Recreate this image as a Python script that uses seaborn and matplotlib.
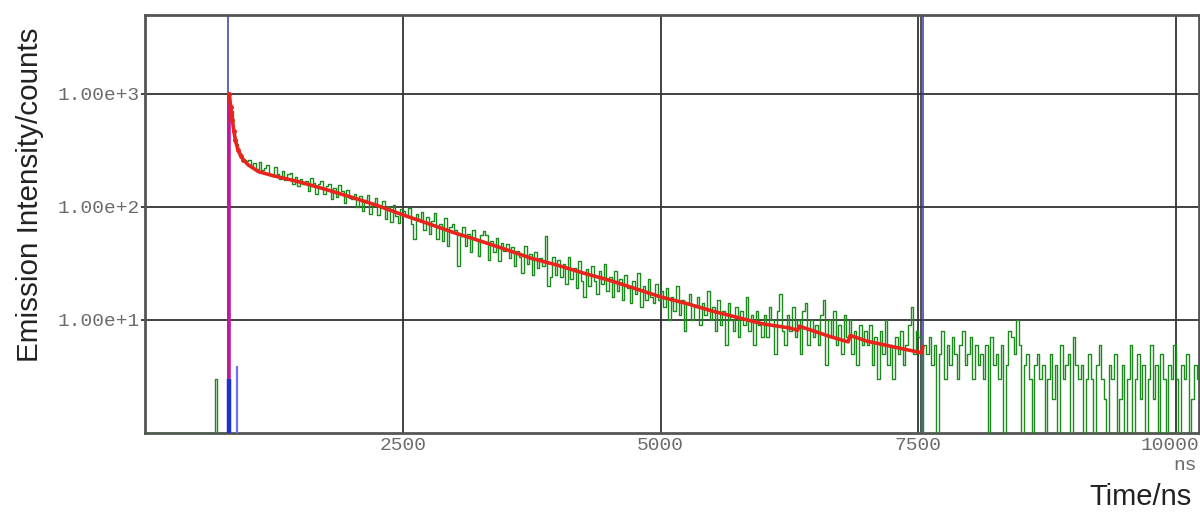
import numpy as np
import pandas as pd
import matplotlib
matplotlib.use("Agg")
import matplotlib.pyplot as plt
import matplotlib.transforms as mtransforms
import seaborn as sns

# Decay histogram: counts per 25 ns channel, channel start times in ns
bin_width = 25
decay_counts = [
    # 0 - 775 ns: background before the excitation pulse
    1, 1, 1, 1, 1, 1, 1, 1, 1, 1, 1, 1, 1, 1, 1, 1,
    1, 1, 1, 1, 1, 1, 1, 1, 1, 1, 1, 3, 1, 1, 1, 1,
    # 800 - 975 ns: rise and fast component
    1000, 700, 470, 360, 300, 275, 262, 255,
    # 1000 - 1475 ns
    262, 231, 244, 216, 248, 210, 219, 236, 192, 189,
    224, 196, 178, 209, 172, 194, 201, 161, 183, 152,
    # 1500 - 1975 ns
    178, 158, 171, 139, 182, 163, 131, 158, 170, 129,
    152, 161, 118, 146, 122, 155, 137, 109, 142, 121,
    # 2000 - 2475 ns
    118, 131, 99, 124, 92, 116, 127, 87, 108, 119,
    84, 102, 113, 78, 99, 74, 105, 83, 72, 96,
    # 2500 - 2975 ns
    92, 84, 98, 70, 52, 86, 78, 91, 62, 82,
    58, 75, 88, 52, 71, 50, 79, 45, 66, 70,
    # 3000 - 3475 ns
    62, 30, 55, 67, 45, 58, 40, 63, 51, 37,
    57, 61, 56, 34, 50, 40, 53, 33, 48, 41,
    # 3500 - 3975 ns
    47, 35, 44, 30, 41, 36, 26, 45, 31, 38,
    25, 40, 29, 35, 30, 55, 20, 24, 36, 25,
    # 4000 - 4475 ns
    34, 24, 31, 21, 36, 23, 29, 19, 33, 22,
    16, 28, 20, 30, 22, 17, 27, 21, 31, 18,
    # 4500 - 4975 ns
    24, 16, 27, 18, 23, 15, 25, 19, 14, 22,
    17, 26, 13, 20, 15, 23, 16, 14, 21, 15,
    # 5000 - 5475 ns
    18, 13, 19, 10, 16, 12, 20, 11, 15, 8,
    14, 17, 10, 13, 16, 9, 14, 11, 18, 10,
    # 5500 - 5975 ns
    13, 8, 15, 9, 12, 6, 14, 10, 8, 13,
    7, 12, 9, 16, 8, 11, 6, 12, 9, 7,
    # 6000 - 6475 ns
    11, 7, 13, 10, 5, 12, 17, 8, 6, 11,
    8, 13, 7, 10, 5, 12, 14, 6, 10, 7,
    # 6500 - 6975 ns
    9, 6, 11, 15, 4, 10, 7, 12, 6, 9,
    5, 11, 7, 10, 5, 8, 4, 9, 6, 8,
    # 7000 - 7475 ns
    6, 9, 4, 7, 3, 8, 5, 10, 4, 6,
    3, 7, 5, 8, 4, 6, 9, 13, 5, 8,
    # 7500 - 7550 ns
    7, 0, 6,
    # 7575 - 8050 ns
    5, 7, 4, 6, 0, 5, 8, 3, 6, 4,
    7, 5, 3, 6, 8, 4, 5, 7, 3, 6,
    # 8075 - 8550 ns
    4, 5, 3, 6, 0, 7, 4, 5, 3, 6,
    0, 4, 8, 7, 5, 10, 6, 0, 4, 5,
    # 8575 - 9050 ns
    3, 0, 4, 5, 3, 4, 0, 3, 5, 2,
    4, 0, 6, 3, 4, 5, 0, 7, 4, 3,
    # 9075 - 9550 ns
    4, 0, 3, 5, 3, 0, 4, 6, 3, 2,
    0, 4, 3, 5, 0, 2, 4, 0, 3, 6,
    # 9575 - 10050 ns
    0, 3, 5, 2, 4, 0, 3, 6, 2, 4,
    0, 5, 3, 0, 4, 3, 6, 3, 0, 4,
    # 10075 - 10225 ns
    3, 5, 0, 2, 4, 3, 4,
]
decay_time = [i * bin_width for i in range(len(decay_counts))]

# Fitted decay curve over the fit window
fit_time = [815, 830, 845, 860, 875, 900, 925, 950, 1000, 1100, 1250, 1500,
            1750, 2000, 2250, 2500, 2750, 3000, 3250, 3500, 3750, 4000, 4250,
            4500, 4750, 5000, 5250, 5500, 5750, 6000, 6250, 6330, 6345, 6500,
            6650, 6820, 6840, 7000, 7250, 7500, 7530, 7545]
fit_counts = [1000, 760, 590, 470, 390, 320, 285, 262, 235, 205, 188, 166,
              143, 122, 103, 85, 71, 59, 50, 42, 35, 30.5, 26,
              22.5, 19, 16, 14, 12, 10.5, 9.2, 8.5, 8.1, 8.8, 7.9,
              7.1, 6.4, 7.3, 6.5, 5.8, 5.2, 5.1, 5.8]

# Instrument response (prompt) channels
irf_time = [812, 890]
irf_counts = [3.0, 3.9]
irf_peak_time = 812
irf_peak_counts = 1000

# Cursor positions (ns)
cursor_blue = [802, 7550]
cursor_black = [7530]

x_ticks = [2500, 5000, 7500, 10000]
x_tick_labels = ["2500", "5000", "7500", "10000"]
y_ticks = [10, 100, 1000]
y_tick_labels = ["1.00e+1", "1.00e+2", "1.00e+3"]

sns.set_theme(style="white")
plt.rcParams["font.family"] = ["Liberation Sans", "DejaVu Sans"]

fig = plt.figure(figsize=(12, 5.13), dpi=100)
ax = fig.add_axes([0.121, 0.156, 0.878, 0.815])

decay_df = pd.DataFrame({"t": decay_time, "counts": decay_counts})
fit_df = pd.DataFrame({"t": fit_time, "counts": fit_counts})

# grid and cursors
for xv in x_ticks:
    ax.axvline(xv, color="#333333", lw=1.3, zorder=1)
for yv in y_ticks:
    ax.axhline(yv, color="#333333", lw=1.3, zorder=1)
for xv in cursor_black:
    ax.axvline(xv, color="#333333", lw=1.2, zorder=1)
for xv in cursor_blue:
    ax.axvline(xv, color="#3a3aa8", lw=1.1, zorder=2)

sns.lineplot(data=decay_df, x="t", y="counts", ax=ax, drawstyle="steps-post",
             estimator=None, sort=False, color="#1d8a1d", lw=1.0, zorder=3)

# prompt signal
ax.vlines([irf_peak_time], 1, [irf_peak_counts], color="#c2189c", lw=2.6, zorder=4)
ax.vlines(irf_time[:1], 1, irf_counts[:1], color="#1e2fd6", lw=3.2, zorder=5)
ax.vlines(irf_time[1:], 1, irf_counts[1:], color="#6f6fff", lw=1.6, zorder=5)

sns.lineplot(data=fit_df, x="t", y="counts", ax=ax, estimator=None, sort=False,
             color="#e8241c", lw=2.6, zorder=6)
ax.plot(fit_time[:8], fit_counts[:8], "o", color="#e8241c", ms=2.5, zorder=6)

ax.set_yscale("log")
ax.set_xlim(0, 10222)
ax.set_ylim(1, 5000)

mono = "Liberation Mono"
ax.set_xticks(x_ticks)
ax.set_xticklabels(x_tick_labels, fontfamily=mono, fontsize=14, color="#6b6b6b")
ax.set_yticks(y_ticks)
ax.set_yticklabels(y_tick_labels, fontfamily=mono, fontsize=14, color="#6b6b6b")
ax.minorticks_off()
ax.tick_params(axis="y", which="major", left=True, length=3, width=1.3,
               color="#333333", pad=1)
ax.tick_params(axis="x", which="major", bottom=False, pad=-3)

# last x label sits flush against the right edge
last = ax.get_xticklabels()[-1]
last.set_ha("right")
last.set_transform(last.get_transform() +
                   mtransforms.ScaledTranslation(0.23, 0, fig.dpi_scale_trans))

for side, sp in ax.spines.items():
    sp.set_color("#555555")
    sp.set_linewidth(2)
    sp.set_visible(True)

ax.set_xlabel("")
ax.set_ylabel("")
ax.grid(False)

fig.text(0.9975, 0.092, "ns", ha="right", va="center", fontfamily=mono,
         fontsize=14, color="#6b6b6b")
fig.text(0.993, 0.031, "Time/ns", ha="right", va="center", fontsize=21,
         color="#222222")
fig.text(0.025, 0.62, "Emission Intensity/counts", ha="center", va="center",
         rotation=90, fontsize=21.3, color="#222222")

fig.savefig("out.png", dpi=100)
